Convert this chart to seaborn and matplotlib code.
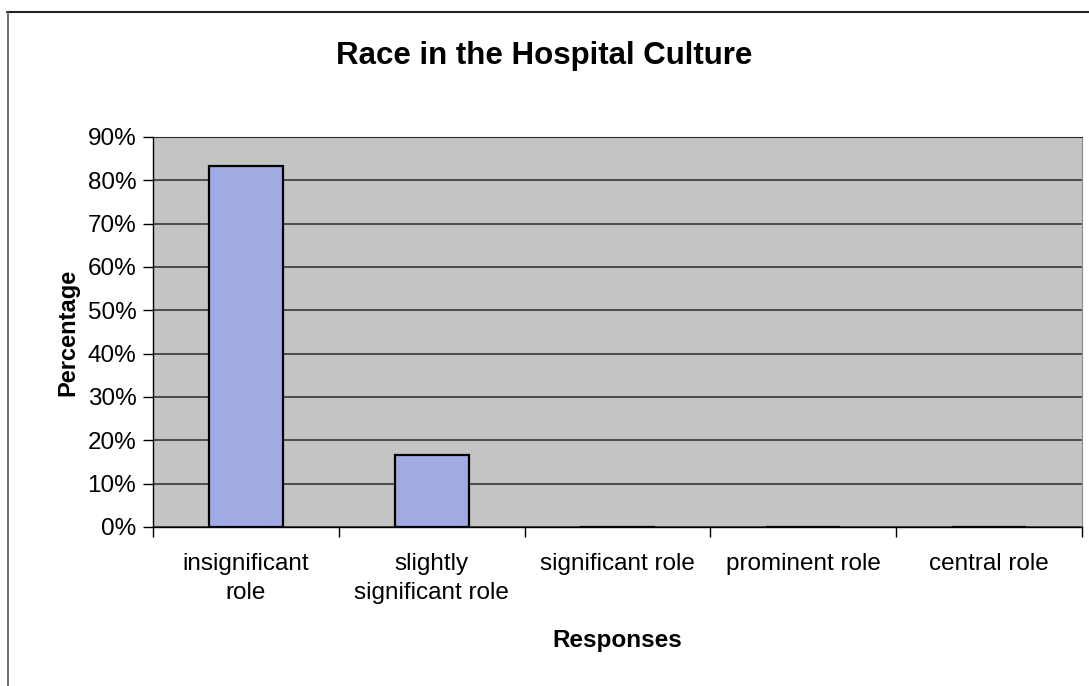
import matplotlib
matplotlib.use('Agg')
import matplotlib.pyplot as plt
import matplotlib.lines as mlines
import numpy as np
import pandas as pd
import seaborn as sns

# Data
responses = ['insignificant\nrole', 'slightly\nsignificant role', 'significant role',
             'prominent role', 'central role']
percentages = [83.3, 16.7, 0, 0, 0]

df = pd.DataFrame({'response': responses, 'pct': percentages})

sns.set_style('white')
plt.rcParams['font.family'] = ['Liberation Sans', 'DejaVu Sans']
plt.rcParams['text.color'] = 'black'
plt.rcParams['axes.labelcolor'] = 'black'
plt.rcParams['xtick.color'] = 'black'
plt.rcParams['ytick.color'] = 'black'

fig = plt.figure(figsize=(10.89, 6.86), dpi=100)
ax = fig.add_axes([0.1405, 0.2318, 0.8531, 0.5685])
ax.set_facecolor('#c3c5c3')

sns.barplot(data=df, x='response', y='pct', order=responses, color='#a0abe3',
            width=0.4, edgecolor='black', linewidth=1.6, saturation=1, ax=ax, zorder=3)

# Axes and grid
ax.set_ylim(0, 90)
ax.set_xlim(-0.5, len(responses) - 0.5)
ax.set_yticks(np.arange(0, 91, 10))
ax.set_yticklabels([f'{v}%' for v in range(0, 91, 10)], fontsize=17.5)
ax.yaxis.grid(True, color='#2a2a2a', linewidth=1.1, zorder=1)
ax.set_axisbelow(True)

ax.set_xticks(range(len(responses)))
ax.set_xticklabels(responses, fontsize=17.5, linespacing=1.4)
ax.tick_params(axis='x', which='major', length=0, pad=19)
ax.set_xticks(np.arange(-0.5, len(responses), 1), minor=True)
ax.tick_params(axis='x', which='minor', bottom=True, length=7, width=1,
               direction='out', color='black')
ax.tick_params(axis='y', length=7, width=1, direction='out', color='black',
               left=True, pad=5)

for side in ['left', 'bottom']:
    ax.spines[side].set_color('black')
    ax.spines[side].set_linewidth(1)
ax.spines['top'].set_color('#2a2a2a')
ax.spines['right'].set_color('#8a8a8a')

ax.set_xlabel('Responses', fontsize=17.5, fontweight='bold', labelpad=18)
ax.set_ylabel('Percentage', fontsize=17, fontweight='bold', labelpad=6)

fig.text(0.5, 0.918, 'Race in the Hospital Culture', ha='center', va='center',
         fontsize=22.5, fontweight='bold')

# Outer chart border (top and left edges visible)
fig.add_artist(mlines.Line2D([0.006, 1.0], [0.983, 0.983], color='#222222', linewidth=1.5))
fig.add_artist(mlines.Line2D([0.007, 0.007], [0.0, 0.983], color='#555555', linewidth=1.2))

fig.savefig('out.png', dpi=100)
